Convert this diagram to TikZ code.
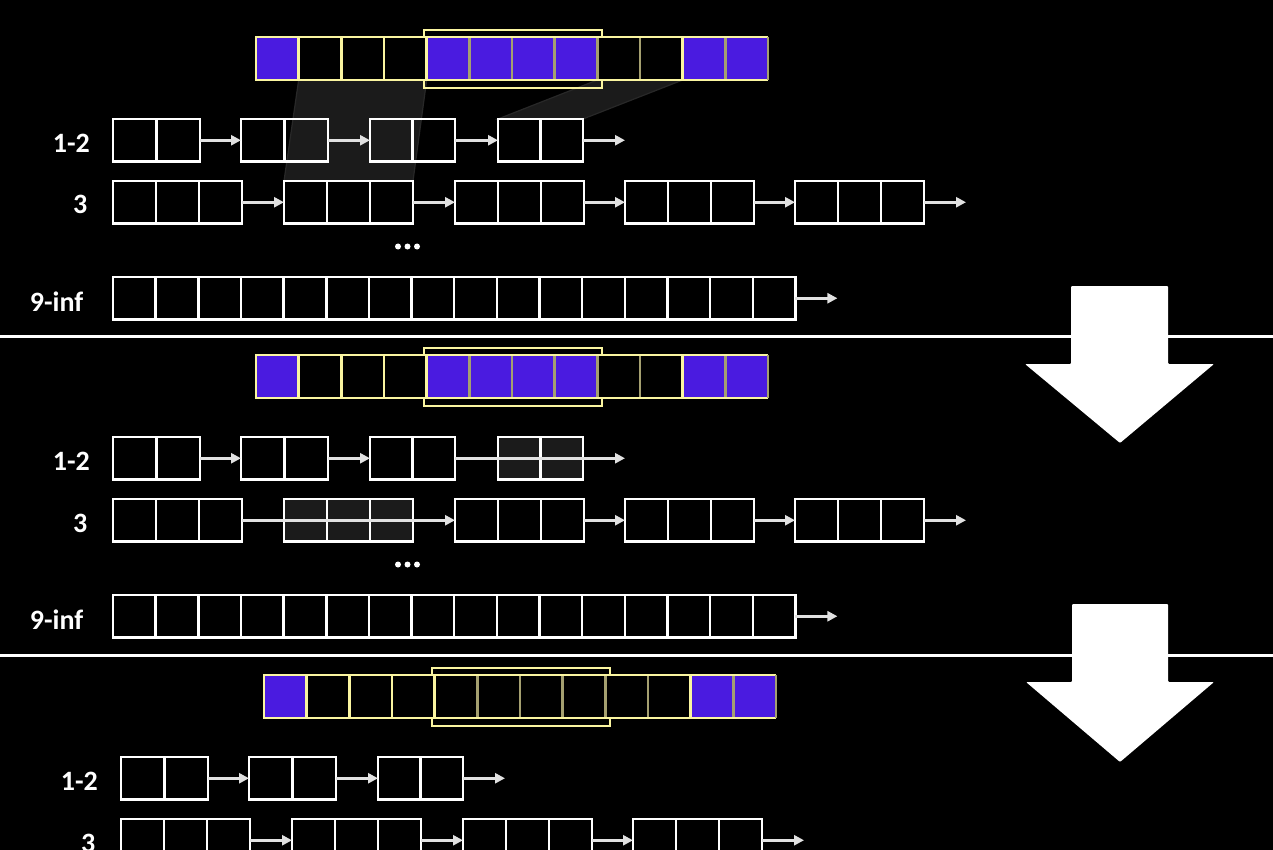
\documentclass[tikz,border=0pt]{standalone}
\usepackage{fontspec}
\setmainfont{Carlito}
\usetikzlibrary{calc,arrows.meta,backgrounds}
\definecolor{blu}{RGB}{74,27,224}
\definecolor{yel}{RGB}{250,245,160}
\definecolor{olv}{RGB}{165,160,112}
\definecolor{shade}{RGB}{27,27,27}
\definecolor{shadeedge}{RGB}{40,40,40}
\definecolor{arrgray}{RGB}{225,225,225}
\tikzset{
  cellbox/.style={draw=white, line width=2.5pt, inner sep=0pt, outer sep=0pt, minimum height=42.5pt},
  cellline/.style={draw=white, line width=2.5pt},
  arr/.style={draw=arrgray, line width=2.6pt, -{Triangle[length=10pt,width=10pt]}},
  lbl/.style={text=white, font=\bfseries\fontsize{28}{30}\selectfont, inner sep=0pt, anchor=base east},
  barbox/.style={inner sep=0pt, outer sep=0pt, minimum width=512pt, minimum height=43pt, anchor=north west},
  winbox/.style={draw=yel, line width=1.6pt, inner sep=0pt, outer sep=0pt, minimum width=178pt, minimum height=58pt, anchor=north west},
  sepline/.style={draw=white, line width=3pt},
  bigarrow/.style={fill=white, rounded corners=1pt},
  shadow/.style={fill=shade, draw=shadeedge, line width=1.2pt},
}
% block of cells: [options] name, left x, top y, number of cells, cell width
\newcommand\blk[6][]{%
  \node[cellbox, #1, minimum width={#5*#6pt}, anchor=north west] (#2) at (#3,#4) {};
  \pgfmathtruncatemacro\nmo{#5-1}%
  \foreach \k in {1,...,\nmo}{\draw[cellline] ($(#2.north west)+(\k*#6,0)$) -- ($(#2.south west)+(\k*#6,0)$);}%
}
% cache bar: name, left x, top y, blue cells
\newcommand\cachebar[4]{%
  \node[winbox] (#1w) at ({#2+168},{#3-7}) {};
  \node[barbox, fill=black] (#1) at (#2,#3) {};
  \foreach \k in {#4}{\fill[blu] ($(#1.north west)+({\k*512/12},0)$) rectangle ++({512/12},43);}%
  \foreach \k in {1,...,11}{%
    \ifnum\k<5 \def\dc{yel}\else\ifnum\k=10 \def\dc{yel}\else\def\dc{olv}\fi\fi
    \draw[draw=\dc, line width=2.5pt] ($(#1.north west)+({\k*512/12},0)$) -- ($(#1.south west)+({\k*512/12},0)$);}%
  \draw[yel, line width=2.5pt] (#1.north east) -- (#1.north west) -- (#1.south west) -- (#1.south east);
  \draw[olv, line width=2.5pt] (#1.north east) -- (#1.south east);
}
\begin{document}
\begin{tikzpicture}[x=1pt, y=-1pt]
\useasboundingbox (0,0) rectangle (1273,850);
\begin{pgfonlayer}{background}
\fill[black] (0,0) rectangle (1273,850);
\end{pgfonlayer}

% ================= top section =================
\cachebar{tbar}{256}{37}{0,4,5,6,7,10,11}
\blk{t1a}{113}{119}{2}{43.5}
\blk{t1b}{241}{119}{2}{43.5}
\blk{t1c}{370}{119}{2}{42.5}
\blk{t1d}{498}{119}{2}{42.5}
\blk{t3a}{113}{181}{3}{43}
\blk{t3b}{284}{181}{3}{43}
\blk{t3c}{455}{181}{3}{43}
\blk{t3d}{625}{181}{3}{43}
\blk{t3e}{795}{181}{3}{43}
\blk{t9}{113}{277}{16}{42.65}
% shaded mappings from cache lines to free blocks (under everything)
\begin{pgfonlayer}{background}
\fill[shadow] ($(tbar.south west)+({512/12},0)$) -- ($(tbar.south west)+({4*512/12},0)$) -- (t3b.north east) -- (t3b.north west) -- cycle;
\fill[shadow] ($(tbar.south west)+({8*512/12},0)$) -- ($(tbar.south west)+({10*512/12},0)$) -- (t1d.north east) -- (t1d.north west) -- cycle;
\end{pgfonlayer}

\coordinate (t1e) at ($(t1d.east)+(42,0)$);
\coordinate (t3e2) at ($(t3e.east)+(42,0)$);
\coordinate (t9e) at ($(t9.east)+(42,0)$);
\draw[arr] (t1a.east) -- (t1b.west);
\draw[arr] (t1b.east) -- (t1c.west);
\draw[arr] (t1c.east) -- (t1d.west);
\draw[arr] (t1d.east) -- (t1e);
\draw[arr] (t3a.east) -- (t3b.west);
\draw[arr] (t3b.east) -- (t3c.west);
\draw[arr] (t3c.east) -- (t3d.west);
\draw[arr] (t3d.east) -- (t3e.west);
\draw[arr] (t3e.east) -- (t3e2);
\draw[arr] (t9.east) -- (t9e);

\node[lbl] (tl1) at (90,152.5) {1-2};
\node[lbl] (tl3) at (87.5,214) {3};
\node[lbl] (tl9) at (83.5,311) {9-inf};
\foreach \dx in {398,407.5,417}{\fill[white] (\dx,246.5) circle (3);}

\draw[sepline] (0,336.5) -- (1273,336.5);

% ================= middle section =================
\cachebar{mbar}{256}{355}{0,4,5,6,7,10,11}
\blk{m1a}{113}{437}{2}{43.5}
\blk{m1b}{241}{437}{2}{43.5}
\blk{m1c}{370}{437}{2}{42.5}
\blk[fill=shade]{m1d}{498}{437}{2}{42.5}
\blk{m3a}{113}{499}{3}{43}
\blk[fill=shade]{m3b}{284}{499}{3}{43}
\blk{m3c}{455}{499}{3}{43}
\blk{m3d}{625}{499}{3}{43}
\blk{m3e}{795}{499}{3}{43}
\blk{m9}{113}{595}{16}{42.65}
\coordinate (m1e) at ($(m1d.east)+(42,0)$);
\coordinate (m3e2) at ($(m3e.east)+(42,0)$);
\coordinate (m9e) at ($(m9.east)+(42,0)$);
\draw[arr] (m1a.east) -- (m1b.west);
\draw[arr] (m1b.east) -- (m1c.west);
\draw[arr] (m1c.east) -- (m1e);
\draw[arr] (m3a.east) -- (m3c.west);
\draw[arr] (m3c.east) -- (m3d.west);
\draw[arr] (m3d.east) -- (m3e.west);
\draw[arr] (m3e.east) -- (m3e2);
\draw[arr] (m9.east) -- (m9e);
\node[lbl] (ml1) at (90,470.5) {1-2};
\node[lbl] (ml3) at (87.5,532) {3};
\node[lbl] (ml9) at (83.5,629) {9-inf};
\foreach \dx in {398,407.5,417}{\fill[white] (\dx,564.5) circle (3);}

\draw[sepline] (0,655) -- (1273,655);

% ================= bottom section =================
\cachebar{bbar}{264}{675}{0,10,11}
\blk{b1a}{121}{757}{2}{43.5}
\blk{b1b}{249}{757}{2}{43.5}
\blk{b1c}{378}{757}{2}{42.5}
\blk{b3a}{121}{819}{3}{43}
\blk{b3c}{292}{819}{3}{43}
\blk{b3d}{463}{819}{3}{43}
\blk{b3e}{633}{819}{3}{43}
\coordinate (b1e) at ($(b1c.east)+(42,0)$);
\coordinate (b3e2) at ($(b3e.east)+(42,0)$);
\draw[arr] (b1a.east) -- (b1b.west);
\draw[arr] (b1b.east) -- (b1c.west);
\draw[arr] (b1c.east) -- (b1e);
\draw[arr] (b3a.east) -- (b3c.west);
\draw[arr] (b3c.east) -- (b3d.west);
\draw[arr] (b3d.east) -- (b3e.west);
\draw[arr] (b3e.east) -- (b3e2);
\node[lbl] (bl1) at (98,790.5) {1-2};
\node[lbl] (bl3) at (95.5,852) {3};

% ================= big arrows =================
\fill[bigarrow] (1071,286) -- (1168,286) -- (1168,364) -- (1214,364) -- (1120,443) -- (1025,364) -- (1071,364) -- cycle;
\fill[bigarrow] (1072,604) -- (1168,604) -- (1168,682) -- (1214,682) -- (1120,762) -- (1026,682) -- (1072,682) -- cycle;
\end{tikzpicture}
\end{document}
